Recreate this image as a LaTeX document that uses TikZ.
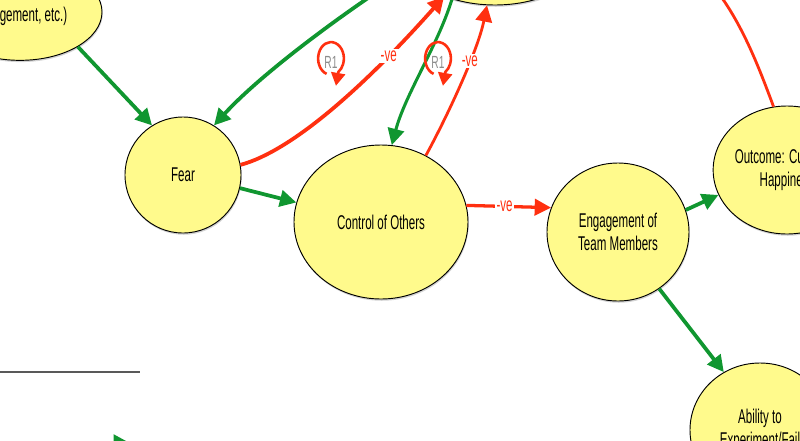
\documentclass[tikz,border=0pt]{standalone}
\usepackage{fontspec}
\setmainfont[FakeStretch=0.58]{Liberation Sans}
\usetikzlibrary{arrows.meta,shapes.geometric,shadows}
\definecolor{bubble}{RGB}{255,250,140}
\definecolor{posgreen}{RGB}{16,150,48}
\definecolor{negred}{RGB}{255,48,16}

\begin{document}
\begin{tikzpicture}[x=0.03cm,y=-0.03cm,factor/.style={ellipse,draw=black,line width=0.8pt,fill=bubble,inner sep=0pt,align=center,font=\fontsize{17}{19.5}\selectfont,drop shadow={shadow xshift=0.6pt,shadow yshift=-1.5pt,opacity=0.35}},pluslink/.style={draw=posgreen,line width=3.2pt,-{Triangle[length=14pt,width=14pt]}},minuslink/.style={draw=negred,line width=2.8pt,-{Triangle[length=14pt,width=14pt]}},sign/.style={text=negred,fill=white,inner sep=1.5pt,font=\fontsize{17}{19}\selectfont},loopname/.style={text=black!45,font=\fontsize{15}{17}\selectfont},looparrow/.style={draw=negred,line width=2.2pt,-{Triangle[length=11pt,width=12pt]}}]
\useasboundingbox (0,0) rectangle (800,440);
\clip (0,0) rectangle (800,440);
\node[factor,minimum width=4.92cm,minimum height=2.9cm] (dis) at (20,12) {\mbox{}\\Engagement, etc.)};
\node[factor,minimum width=6cm,minimum height=3.9cm] (top) at (495,-60) {};
\node[factor,minimum width=3.48cm,minimum height=3.48cm] (fear) at (183,175) {Fear};
\node[factor,minimum width=5.22cm,minimum height=4.62cm] (ctrl) at (381,222) {Control of Others};
\node[factor,minimum width=4.26cm,minimum height=4.14cm] (eng) at (618,232) {Engagement of\\Team Members};
\node[factor,minimum width=4.32cm,minimum height=3.84cm] (out) at (787,170) {Outcome: Customer\\Happiness};
\node[factor,minimum width=4.2cm,minimum height=4.02cm] (abil) at (760,430) {Ability to\\Experiment/Fail};
\draw[pluslink] (dis.-31) -- (fear.122);
\draw[pluslink] (top.200) .. controls (340,15) and (260,75) .. (fear.58);
\draw[pluslink,line width=2.6pt] (top.234) .. controls (438,45) and (405,95) .. (ctrl.82);
\draw[minuslink,line width=3.2pt] (fear.10) .. controls (295,150) and (370,80) .. node[sign,pos=0.75] {-ve} (top.228);
\draw[minuslink,line width=2.4pt] (ctrl.56) .. controls (448,115) and (478,50) .. node[sign,pos=0.63] {-ve} (top.263);
\draw[pluslink] (fear.-13) -- (ctrl.167);
\draw[minuslink] (ctrl.11) -- node[sign,pos=0.45] {-ve} (eng.160);
\draw[pluslink] (eng.18) -- (out.200);
\draw[pluslink] (eng.-54) -- (abil.122);
\draw[minuslink,line width=2.4pt] (out.102) .. controls (745,30) and (710,-60) .. (top.10);
\node[loopname] (loopa) at (331,62) {R1};
\node[loopname] (loopb) at (438,62) {R1};
\draw[looparrow] ([yshift=3pt,shift={(250:11pt and 14pt)}]loopa.center) arc[start angle=250,end angle=-55,x radius=11pt,y radius=14pt] -- ++(-100:12pt);
\draw[looparrow] ([yshift=3pt,shift={(250:11pt and 14pt)}]loopb.center) arc[start angle=250,end angle=-55,x radius=11pt,y radius=14pt] -- ++(-100:12pt);
\coordinate (rulea) at (-5,372);
\coordinate (ruleb) at (140,372);
\draw[black!65,line width=1.2pt] (rulea) -- (ruleb);
\coordinate (keya) at (-5,443);
\coordinate (keyb) at (130,443);
\draw[pluslink] (keya) -- (keyb);
\end{tikzpicture}
\end{document}
